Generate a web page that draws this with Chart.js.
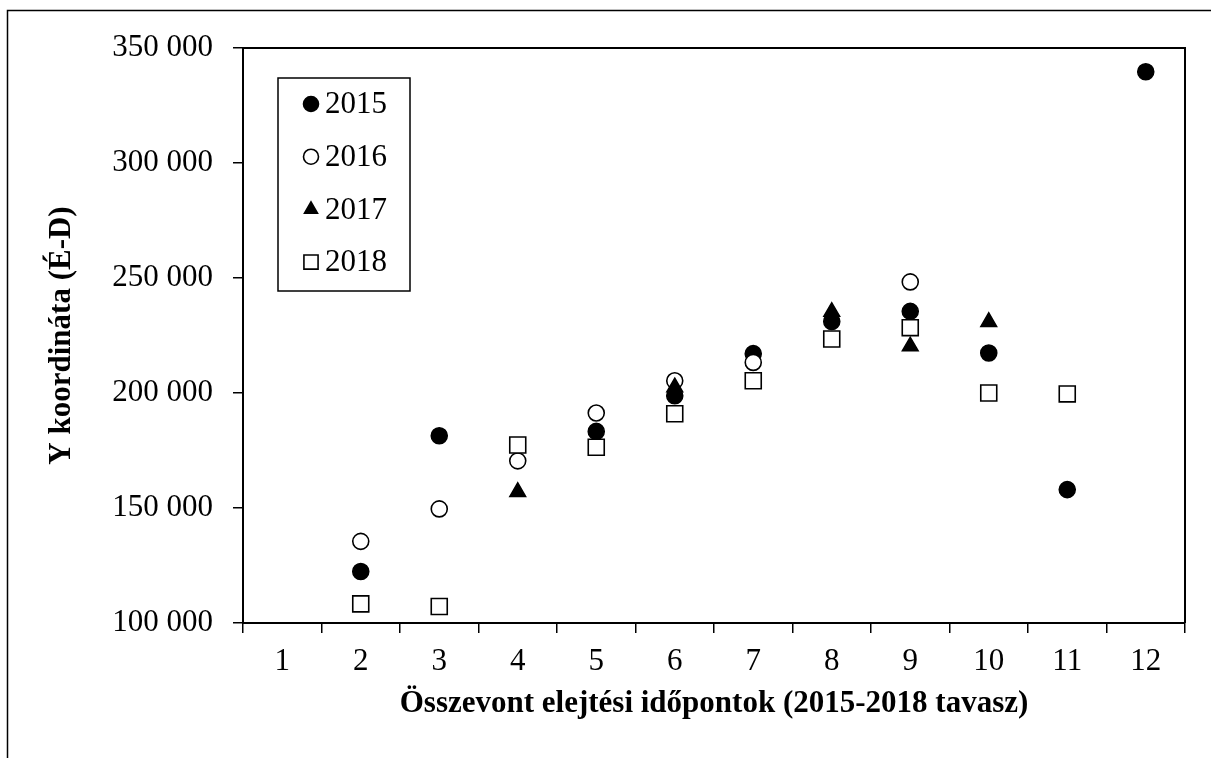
<!DOCTYPE html>
<html>
<head>
<meta charset="utf-8">
<script src="https://cdn.jsdelivr.net/npm/chart.js@4/dist/chart.umd.min.js"></script>
<style>
    html, body { margin: 0; padding: 0; background: #fff; }
    canvas { display: block; }
</style>
</head>
<body>
<canvas id="chart1" width="1211" height="758"></canvas>
<script>
// Összevont elejtési időpontok
const categories = ['1', '2', '3', '4', '5', '6', '7', '8', '9', '10', '11', '12'];

// Y koordináta értékek évenként (null = nincs adat)
const values2015 = [null, 122400, 181400, null, 183300, 198800, 217100, 231100, 235500, 217400, 158000, 339700];
const values2016 = [null, 135500, 149600, 170500, 191300, 205300, 213300, null, 248300, null, null, null];
const values2017 = [null, null, null, 157000, null, 202500, null, 235300, 220300, 230900, null, null];
const values2018 = [null, 108300, 107200, 177400, 176400, 191000, 205300, 223500, 228400, 200000, 199600, null];

const yTicks = [100000, 150000, 200000, 250000, 300000, 350000];

const FONT = 'Liberation Serif, Times New Roman, serif';

function formatNum(v) {
    return String(v).replace(/\B(?=(\d{3})+(?!\d))/g, ' ');
}

// Fehér háttér + külső keret (csak felső és bal oldal látszik)
const framePlugin = {
    id: 'frame',
    beforeDraw(chart) {
        const ctx = chart.ctx;
        ctx.save();
        ctx.fillStyle = '#fff';
        ctx.fillRect(0, 0, chart.width, chart.height);
        ctx.strokeStyle = '#000';
        ctx.lineWidth = 1.5;
        ctx.strokeRect(7.5, 10.5, chart.width + 50, chart.height + 50);
        ctx.restore();
    },
    afterDraw(chart) {
        // a rajzterület felső és jobb széle
        const a = chart.chartArea;
        const ctx = chart.ctx;
        ctx.save();
        ctx.strokeStyle = '#000';
        ctx.lineWidth = 2;
        ctx.beginPath();
        ctx.moveTo(a.left, a.top);
        ctx.lineTo(a.right, a.top);
        ctx.lineTo(a.right, a.bottom);
        ctx.stroke();
        ctx.restore();
    }
};

// Jelmagyarázat kerettel, a rajzterület bal felső részén
const legendBoxPlugin = {
    id: 'legendBox',
    afterDraw(chart) {
        const ctx = chart.ctx;
        const a = chart.chartArea;
        const boxX = a.left + 35, boxY = a.top + 30, boxW = 132, boxH = 213;
        ctx.save();
        ctx.strokeStyle = '#000';
        ctx.lineWidth = 1.5;
        ctx.strokeRect(boxX, boxY, boxW, boxH);
        ctx.font = '31px ' + FONT;
        ctx.textBaseline = 'middle';
        ctx.fillStyle = '#000';
        chart.data.datasets.forEach(function (ds, i) {
            const cy = boxY + 27 + i * 52.7;
            ctx.fillStyle = ds.backgroundColor;
            ctx.strokeStyle = ds.borderColor;
            ctx.lineWidth = ds.borderWidth;
            Chart.helpers.drawPoint(ctx, {
                pointStyle: ds.pointStyle,
                radius: ds.pointStyle === 'rect' ? 10 : 7.5,
                rotation: 0,
                borderWidth: ds.borderWidth
            }, boxX + 33, cy - 1);
            ctx.fillStyle = '#000';
            ctx.fillText(ds.label, boxX + 47, cy);
        });
        ctx.restore();
    }
};

function makeSet(label, data, style, filled) {
    return {
        label: label,
        data: data,
        pointStyle: style,
        pointRadius: style === 'rect' ? 11.3 : (style === 'triangle' ? 9 : 8),
        backgroundColor: filled ? '#000' : '#fff',
        borderColor: '#000',
        borderWidth: 1.6,
        showLine: false
    };
}

const datasets = [
    makeSet('2015', values2015, 'circle', true),
    makeSet('2016', values2016, 'circle', false),
    makeSet('2017', values2017, 'triangle', true),
    makeSet('2018', values2018, 'rect', false)
];
// Excel sorrend: a későbbi sorozat kerül felülre
datasets.forEach(function (ds, i) { ds.order = datasets.length - i; });

new Chart(document.getElementById('chart1'), {
    type: 'line',
    data: { labels: categories, datasets: datasets },
    options: {
        responsive: false,
        animation: false,
        events: [],
        layout: { padding: { left: 0, top: 48, right: 26, bottom: 0 } },
        plugins: {
            legend: { display: false },
            tooltip: { enabled: false }
        },
        scales: {
            x: {
                type: 'category',
                offset: true,
                grid: {
                    display: true,
                    offset: true,
                    drawOnChartArea: false,
                    drawTicks: true,
                    tickLength: 10,
                    color: '#000',
                    lineWidth: 1.5
                },
                border: { display: true, color: '#000', width: 2 },
                ticks: {
                    color: '#000',
                    padding: 10,
                    maxRotation: 0,
                    font: { family: FONT, size: 31 }
                },
                title: {
                    display: true,
                    text: 'Összevont elejtési időpontok (2015-2018 tavasz)',
                    color: '#000',
                    padding: { top: 0, bottom: 35 },
                    font: { family: FONT, size: 31, weight: 'bold' }
                },
                afterFit(scale) { scale.height = 135; }
            },
            y: {
                min: yTicks[0],
                max: yTicks[yTicks.length - 1],
                afterBuildTicks(scale) {
                    scale.ticks = yTicks.map(function (v) { return { value: v }; });
                },
                grid: {
                    display: true,
                    drawOnChartArea: false,
                    drawTicks: true,
                    tickLength: 10,
                    color: '#000',
                    lineWidth: 1.5
                },
                border: { display: true, color: '#000', width: 2 },
                ticks: {
                    color: '#000',
                    padding: 20,
                    font: { family: FONT, size: 31 },
                    callback: function (v) { return formatNum(v); }
                },
                title: {
                    display: true,
                    text: 'Y koordináta (É-D)',
                    color: '#000',
                    padding: { top: 43, bottom: 0 },
                    font: { family: FONT, size: 31, weight: 'bold' }
                },
                afterFit(scale) { scale.width = 243; }
            }
        }
    },
    plugins: [framePlugin, legendBoxPlugin]
});
</script>
</body>
</html>
